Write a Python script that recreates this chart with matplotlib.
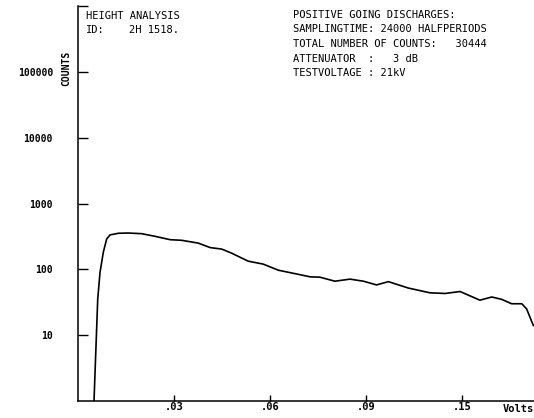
import numpy as np
import matplotlib.pyplot as plt

plt.rcParams['font.family'] = 'DejaVu Sans Mono'

# pulse height spectrum
volts = [0.0050, 0.00616, 0.00688, 0.00791, 0.00897, 0.0100, 0.0126, 0.0157,
         0.0199, 0.0241, 0.0288, 0.0324, 0.0376, 0.0413, 0.0449, 0.0478,
         0.0532, 0.0579, 0.0626, 0.0678, 0.0725, 0.0756, 0.0803, 0.0850,
         0.0892, 0.0933, 0.0970, 0.1032, 0.1100, 0.1147, 0.1194, 0.1256,
         0.1293, 0.1324, 0.1355, 0.1387, 0.1402, 0.1423]
counts = [1.0, 35, 90, 182, 290, 333, 353, 356,
          348, 317, 282, 276, 250, 214, 203, 178,
          133, 120, 97, 86, 77, 76, 66, 71,
          66, 58, 65, 52, 44, 43, 46, 34,
          38, 35, 30, 30, 25, 14]

xtick_pos = [0.03, 0.06, 0.09, 0.12]
xtick_lab = ['.03', '.06', '.09', '.15']
ytick_pos = [10, 100, 1000, 10000, 100000, 1000000]
ytick_lab = ['10', '100', '1000', '10000', '100000', '']

W, H = 534, 418
fig = plt.figure(figsize=(W / 100, H / 100), dpi=100)
ax = fig.add_axes([78 / W, 17 / H, 1 - 78 / W, 395 / H])

ax.plot(volts, counts, color='black', lw=1.2, solid_joinstyle='round')
ax.set_yscale('log')
ax.set_xlim(0, 0.1425)
ax.set_ylim(1, 1e6)

ax.spines['top'].set_visible(False)
ax.spines['right'].set_visible(False)
ax.spines['left'].set_linewidth(1.1)
ax.spines['bottom'].set_linewidth(1.1)

ax.set_xticks(xtick_pos)
ax.set_xticklabels(xtick_lab, fontweight='bold')
ax.set_yticks(ytick_pos)
ax.set_yticklabels(ytick_lab, fontweight='bold')
ax.yaxis.set_minor_locator(plt.NullLocator())
ax.tick_params(axis='y', direction='in', length=7, width=1, pad=18, labelsize=7)
ax.tick_params(axis='x', direction='in', length=4, width=1, pad=1, labelsize=7.5)

def px(x, y):
    return x / W, 1 - y / H

fig.text(*px(66, 68), 'COUNTS', rotation=90, ha='center', va='center', fontsize=7, fontweight='bold')
fig.text(*px(86, 16), 'HEIGHT ANALYSIS', ha='left', va='center', fontsize=7.5)
fig.text(*px(86, 30), 'ID:', ha='left', va='center', fontsize=7.5)
fig.text(*px(129, 30), '2H 1518.', ha='left', va='center', fontsize=7.5)

info = ['POSITIVE GOING DISCHARGES:',
        'SAMPLINGTIME: 24000 HALFPERIODS',
        'TOTAL NUMBER OF COUNTS:   30444',
        'ATTENUATOR  :   3 dB',
        'TESTVOLTAGE : 21kV']
for i, line in enumerate(info):
    fig.text(*px(293, 15 + 14.5 * i), line, ha='left', va='center', fontsize=7.5)

fig.text(*px(503, 409), 'Volts', ha='left', va='center', fontsize=7.5, fontweight='bold')

fig.savefig('out.png', dpi=100)
